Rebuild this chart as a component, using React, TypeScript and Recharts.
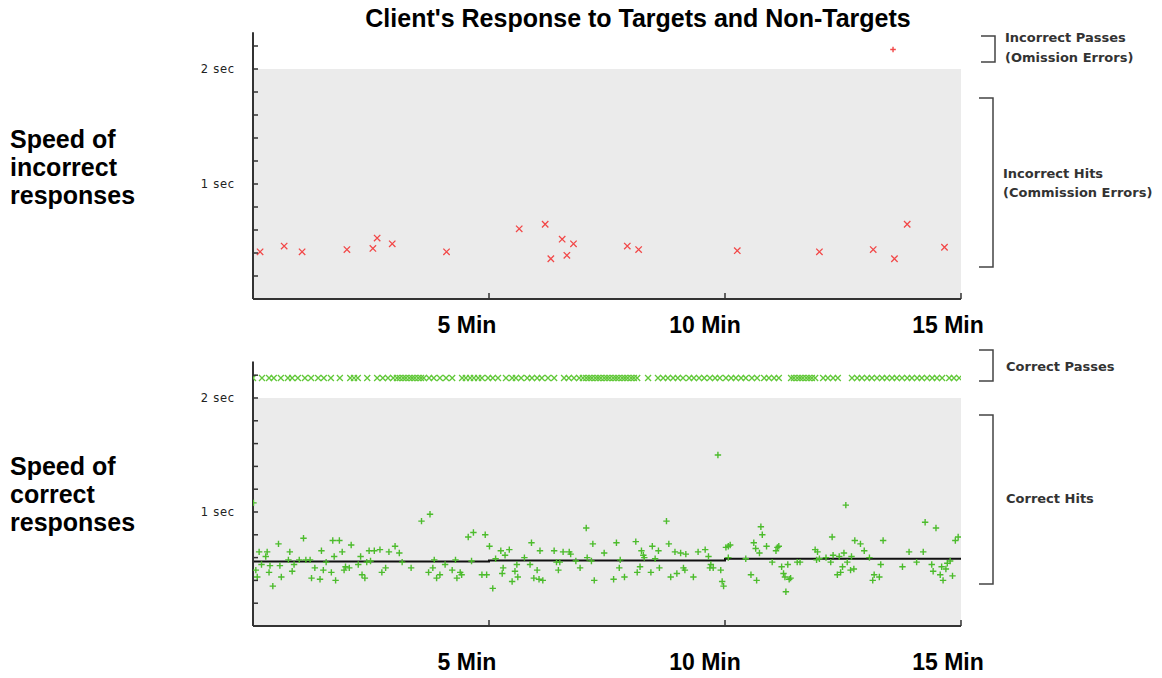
import { ComposedChart, Scatter, Line, XAxis, YAxis, ReferenceArea } from 'recharts'

// time in minutes, response speed in seconds
const incorrectHits: [number, number][] = [
  [0.15, 0.41], [0.66, 0.46], [1.04, 0.41], [1.99, 0.43], [2.54, 0.44], [2.63, 0.53],
  [2.95, 0.48], [4.1, 0.41], [5.64, 0.61], [6.19, 0.65], [6.31, 0.35], [6.55, 0.52],
  [6.65, 0.38], [6.79, 0.48], [7.93, 0.46], [8.17, 0.43], [10.26, 0.42], [12.0, 0.41],
  [13.14, 0.43], [13.59, 0.35], [13.86, 0.65], [14.65, 0.45],
]

const incorrectPasses: [number, number][] = [[13.56, 2.17]]

const PASS_SPEED = 2.175

const correctPassTimes = [
  0, 0.19, 0.34, 0.44, 0.59, 0.74, 0.83, 0.95, 1.1, 1.23, 1.38, 1.5, 1.65, 1.84, 2.06, 2.14,
  2.22, 2.42, 2.63, 2.75, 2.86, 2.97, 3.05, 3.11, 3.18, 3.24, 3.31, 3.37, 3.43, 3.5, 3.56,
  3.62, 3.73, 3.83, 3.96, 4.09, 4.22, 4.43, 4.51, 4.6, 4.68, 4.77, 4.85, 4.98, 5.08, 5.19,
  5.36, 5.49, 5.57, 5.68, 5.81, 5.91, 6.02, 6.12, 6.25, 6.38, 6.59, 6.69, 6.8, 6.91, 6.99,
  7.06, 7.12, 7.18, 7.25, 7.31, 7.37, 7.44, 7.5, 7.56, 7.63, 7.69, 7.75, 7.82, 7.88, 7.94,
  8.01, 8.07, 8.14, 8.37, 8.58, 8.69, 8.79, 8.9, 9.0, 9.11, 9.24, 9.34, 9.45, 9.56, 9.68,
  9.79, 9.89, 10.02, 10.13, 10.23, 10.34, 10.44, 10.57, 10.68, 10.83, 10.93, 11.04, 11.14,
  11.4, 11.46, 11.53, 11.59, 11.65, 11.72, 11.78, 11.84, 11.91, 12.08, 12.18, 12.29, 12.39,
  12.69, 12.8, 12.9, 13.01, 13.11, 13.22, 13.33, 13.43, 13.54, 13.64, 13.75, 13.86, 13.96,
  14.07, 14.17, 14.28, 14.39, 14.49, 14.6, 14.75, 14.85, 14.96,
]

const correctHits: [number, number][] = [
  [0.01, 1.08], [0.13, 0.65], [0.3, 0.65], [0.27, 0.61], [0.06, 0.49], [0.09, 0.43], [0.18, 0.54],
  [0.36, 0.53], [0.34, 0.47], [0.42, 0.35], [0.54, 0.72], [0.57, 0.53], [0.6, 0.43], [0.75, 0.58],
  [0.78, 0.65], [0.83, 0.48], [0.87, 0.54], [0.98, 0.58], [1.07, 0.77], [1.12, 0.58], [1.21, 0.58],
  [1.24, 0.42], [1.31, 0.51], [1.42, 0.41], [1.45, 0.66], [1.49, 0.49], [1.55, 0.56], [1.66, 0.47],
  [1.69, 0.75], [1.72, 0.61], [1.75, 0.4], [1.83, 0.75], [1.89, 0.65], [1.93, 0.49], [1.96, 0.52],
  [2.04, 0.51], [2.08, 0.71], [2.23, 0.54], [2.28, 0.61], [2.31, 0.45], [2.37, 0.42], [2.41, 0.56],
  [2.46, 0.66], [2.49, 0.57], [2.57, 0.66], [2.69, 0.67], [2.73, 0.47], [2.81, 0.51], [2.88, 0.65],
  [3.01, 0.7], [3.1, 0.64], [3.16, 0.56], [3.35, 0.51], [3.57, 0.92], [3.75, 0.98], [3.72, 0.47],
  [3.81, 0.51], [3.84, 0.58], [3.89, 0.42], [3.96, 0.45], [4.07, 0.54], [4.22, 0.49], [4.29, 0.58],
  [4.32, 0.42], [4.39, 0.47], [4.42, 0.45], [4.56, 0.78], [4.67, 0.82], [4.63, 0.57], [4.85, 0.45],
  [4.92, 0.8], [4.95, 0.45], [5.01, 0.7], [5.08, 0.33], [5.14, 0.59], [5.25, 0.66], [5.34, 0.62],
  [5.43, 0.67], [5.3, 0.51], [5.28, 0.46], [5.49, 0.39], [5.55, 0.48], [5.59, 0.54], [5.61, 0.43],
  [5.75, 0.6], [5.87, 0.54], [5.9, 0.73], [5.95, 0.42], [6.02, 0.49], [6.06, 0.41], [6.14, 0.4],
  [6.08, 0.66], [6.38, 0.66], [6.43, 0.56], [6.47, 0.49], [6.5, 0.56], [6.57, 0.65], [6.7, 0.65],
  [6.73, 0.63], [6.84, 0.57], [6.93, 0.51], [7.06, 0.86], [7.08, 0.6], [7.17, 0.57], [7.2, 0.72],
  [7.23, 0.4], [7.44, 0.64], [7.64, 0.41], [7.7, 0.73], [7.76, 0.51], [7.78, 0.58], [7.87, 0.43],
  [8.11, 0.74], [8.14, 0.47], [8.2, 0.52], [8.23, 0.66], [8.27, 0.62], [8.29, 0.6], [8.43, 0.47],
  [8.46, 0.7], [8.52, 0.59], [8.59, 0.66], [8.61, 0.51], [8.76, 0.92], [8.81, 0.72], [8.85, 0.43],
  [8.94, 0.65], [8.98, 0.46], [9.06, 0.64], [9.12, 0.51], [9.15, 0.49], [9.17, 0.63], [9.33, 0.43],
  [9.43, 0.65], [9.58, 0.67], [9.65, 0.61], [9.68, 0.51], [9.75, 0.51], [9.7, 0.54], [9.91, 0.49],
  [9.94, 0.39], [9.97, 0.35], [10.02, 0.69], [10.07, 0.7], [9.85, 1.5], [10.11, 0.71], [10.07, 0.6],
  [10.44, 0.59], [10.55, 0.45], [10.61, 0.73], [10.65, 0.68], [10.67, 0.4], [10.73, 0.64],
  [10.76, 0.87], [10.79, 0.8], [10.88, 0.7], [11.0, 0.56], [11.08, 0.66], [11.11, 0.69], [11.14, 0.7],
  [11.2, 0.52], [11.24, 0.46], [11.27, 0.43], [11.29, 0.3], [11.33, 0.54], [11.36, 0.41], [11.39, 0.42],
  [11.53, 0.56], [11.59, 0.56], [11.91, 0.67], [11.96, 0.65], [11.94, 0.58], [12.0, 0.59], [12.14, 0.6],
  [12.24, 0.56], [12.27, 0.78], [12.29, 0.62], [12.38, 0.45], [12.42, 0.61], [12.45, 0.47], [12.52, 0.64],
  [12.49, 0.52], [12.56, 1.06], [12.59, 0.56], [12.66, 0.49], [12.68, 0.61], [12.73, 0.5], [12.75, 0.75],
  [12.87, 0.72], [12.95, 0.66], [13.06, 0.6], [13.13, 0.4], [13.16, 0.45], [13.27, 0.43], [13.3, 0.54],
  [13.35, 0.75], [13.76, 0.52], [13.9, 0.65], [14.06, 0.56], [14.2, 0.65], [14.24, 0.91], [14.38, 0.54],
  [14.41, 0.48], [14.47, 0.86], [14.56, 0.45], [14.59, 0.52], [14.62, 0.4], [14.68, 0.5], [14.71, 0.55],
  [14.77, 0.57], [14.82, 0.44], [14.88, 0.75], [14.94, 0.78],
]

// running median of correct hits, steps at 5 and 10 min
const medianSteps: [number, number][] = [[0, 0.565], [5, 0.575], [10, 0.59], [15, 0.59]]

const secTicks = [0, 0.2, 0.4, 0.6, 0.8, 1, 1.2, 1.4, 1.6, 1.8, 2, 2.2]
const secLabels: Record<number, string> = { 1: '1 sec', 2: '2 sec' }
const minTicks = [5, 10, 15]
const minLabels: Record<number, string> = { 5: '5 Min', 10: '10 Min', 15: '15 Min' }
// labels sit a bit left of their tick in the original
const minLabelShift: Record<number, number> = { 5: -22, 10: -20, 15: -13 }

const toPts = (arr: [number, number][]) => arr.map(([t, s]) => ({ t, s }))

const AXIS = '#333'
const RED = '#f24848'
const GREEN = '#4cbc2c'
const PASS_GREEN = '#62c83a'
const BG = '#ebebeb'

const XMark = ({ cx, cy, color, r = 3.2 }: any) => (
  <path
    d={`M${cx - r},${cy - r}L${cx + r},${cy + r}M${cx - r},${cy + r}L${cx + r},${cy - r}`}
    stroke={color}
    strokeWidth={1.3}
    fill="none"
  />
)

const PlusMark = ({ cx, cy, color, r = 3.2 }: any) => (
  <path
    d={`M${cx - r},${cy}L${cx + r},${cy}M${cx},${cy - r}L${cx},${cy + r}`}
    stroke={color}
    strokeWidth={1.4}
    fill="none"
  />
)

const SecTick = ({ x, y, payload }: any) => (
  <g>
    <line x1={x} x2={x + 5} y1={y} y2={y} stroke={AXIS} strokeWidth={1.5} />
    {secLabels[payload.value] && (
      <text x={x - 18} y={y + 4} textAnchor="end" fontSize={11.5} letterSpacing={0.8}
        fontFamily="DejaVu Sans, sans-serif" fill="#222">
        {secLabels[payload.value]}
      </text>
    )}
  </g>
)

const makeMinTick = (dy: number) => ({ x, y, payload }: any) => (
  <g>
    <line x1={x} x2={x} y1={y} y2={y - 6} stroke={AXIS} strokeWidth={1.5} />
    <text x={x + (minLabelShift[payload.value] ?? -20)} y={y + dy} textAnchor="middle" fontSize={23}
      fontWeight="bold" fontFamily="Liberation Sans, Arial, sans-serif" fill="#000">
      {minLabels[payload.value]}
    </text>
  </g>
)

const AXIS_W = 20
const AXIS_H = 20

const Panel = ({ height, top, bottom, labelDy, children }: any) => (
  <ComposedChart width={1000} height={height}
    margin={{ top, right: 39, bottom: bottom - AXIS_H, left: 253 - AXIS_W }}>
    <XAxis type="number" dataKey="t" domain={[0, 15]} ticks={minTicks} height={AXIS_H}
      allowDataOverflow axisLine={{ stroke: AXIS, strokeWidth: 2 }} tickLine={false}
      tickSize={0} tickMargin={0} tick={makeMinTick(labelDy)} interval={0} />
    <YAxis type="number" dataKey="s" domain={[0, 2.32]} ticks={secTicks} width={AXIS_W}
      allowDataOverflow axisLine={{ stroke: AXIS, strokeWidth: 2 }} tickLine={false}
      tickSize={0} tickMargin={0} tick={<SecTick />} interval={0} />
    <ReferenceArea x1={0} x2={15} y1={0} y2={2} fill={BG} fillOpacity={1} stroke="none" />
    {children}
  </ComposedChart>
)

const Bracket = ({ x, y1, y2 }: any) => (
  <path d={`M${x - 14},${y1}H${x}V${y2}H${x - 14}`} stroke="#444" strokeWidth={1.5} fill="none" />
)

const sideLabel = { fontSize: 13, fontWeight: 'bold', fontFamily: 'DejaVu Sans, sans-serif', fill: '#333' } as any
const bigLabel = { fontSize: 25, fontWeight: 'bold', fontFamily: 'Liberation Sans, Arial, sans-serif', fill: '#000' } as any

export default function App() {
  const passData = correctPassTimes.map((t) => ({ t, s: PASS_SPEED }))
  return (
    <div style={{ position: 'absolute', left: 0, top: 0, width: 1162, height: 678, background: '#fff' }}>
      <div style={{ position: 'absolute', left: 0, top: 0 }}>
        <Panel height={340} top={32.2} bottom={41} labelDy={34}>
          <Scatter data={toPts(incorrectHits)} isAnimationActive={false}
            shape={(p: any) => <XMark cx={p.cx} cy={p.cy} color={RED} />} />
          <Scatter data={toPts(incorrectPasses)} isAnimationActive={false}
            shape={(p: any) => <PlusMark cx={p.cx} cy={p.cy} color={RED} r={2.8} />} />
        </Panel>
      </div>
      <div style={{ position: 'absolute', left: 0, top: 330 }}>
        <Panel height={348} top={31.5} bottom={52} labelDy={44}>
          <Line data={toPts(medianSteps)} dataKey="s" type="stepAfter" stroke="#111"
            strokeWidth={2} dot={false} isAnimationActive={false} />
          <Scatter data={passData} isAnimationActive={false}
            shape={(p: any) => <XMark cx={p.cx} cy={p.cy} color={PASS_GREEN} r={3} />} />
          <Scatter data={toPts(correctHits)} isAnimationActive={false}
            shape={(p: any) => <PlusMark cx={p.cx} cy={p.cy} color={GREEN} />} />
        </Panel>
      </div>
      <svg width={1162} height={678} style={{ position: 'absolute', left: 0, top: 0, pointerEvents: 'none' }}>
        <text x={638} y={27} textAnchor="middle" {...bigLabel} fontSize={25}>
          Client's Response to Targets and Non-Targets
        </text>
        <text x={10} y={148} {...bigLabel}>Speed of</text>
        <text x={10} y={176} {...bigLabel}>incorrect</text>
        <text x={10} y={204} {...bigLabel}>responses</text>
        <text x={10} y={475} {...bigLabel}>Speed of</text>
        <text x={10} y={503} {...bigLabel}>correct</text>
        <text x={10} y={531} {...bigLabel}>responses</text>

        <Bracket x={995} y1={36} y2={62} />
        <text x={1005} y={42} {...sideLabel}>Incorrect Passes</text>
        <text x={1005} y={62} {...sideLabel}>(Omission Errors)</text>

        <Bracket x={993} y1={98} y2={267} />
        <text x={1003} y={178} {...sideLabel}>Incorrect Hits</text>
        <text x={1003} y={197} {...sideLabel}>(Commission Errors)</text>

        <Bracket x={993} y1={350} y2={381} />
        <text x={1006} y={371} {...sideLabel}>Correct Passes</text>

        <Bracket x={993} y1={415} y2={584} />
        <text x={1006} y={503} {...sideLabel}>Correct Hits</text>
      </svg>
    </div>
  )
}
